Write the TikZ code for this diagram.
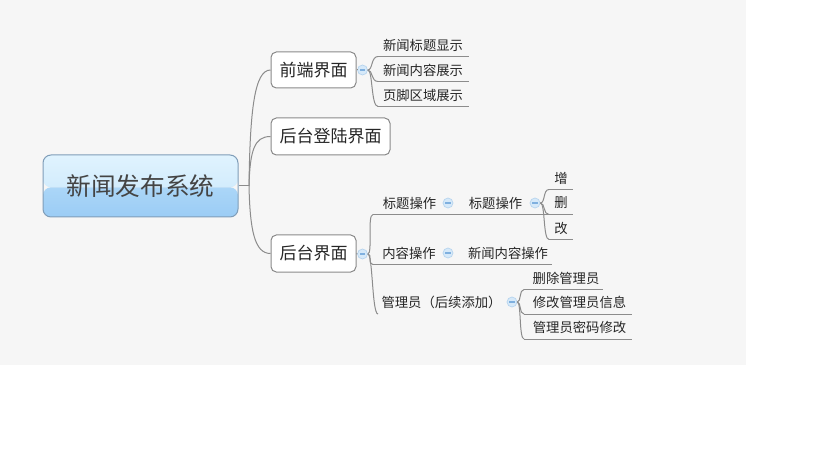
\documentclass[tikz,border=0pt]{standalone}
\usepackage{fontspec}
\newfontfamily\cjk{Noto Sans CJK SC}
\definecolor{bgc}{HTML}{F6F6F6}
\definecolor{txt}{HTML}{262626}
\definecolor{lineC}{HTML}{8C8C8C}
\definecolor{boxC}{HTML}{8A8A8A}
\definecolor{rootD}{HTML}{7F9DB8}
\definecolor{rootT}{HTML}{444444}
\definecolor{rtA}{HTML}{E0F3FE}
\definecolor{rtB}{HTML}{C6E6FB}
\definecolor{rbA}{HTML}{ABD6F7}
\definecolor{rbB}{HTML}{9BCCF5}
\definecolor{iconF}{HTML}{D6E9F9}
\definecolor{iconD}{HTML}{B5D3EE}
\definecolor{iconM}{HTML}{7FB0DF}
\begin{document}
\begin{tikzpicture}[x=0.75pt,y=-0.75pt,
  conn/.style={draw=lineC, line width=0.75pt},
  topic/.style={draw=boxC, fill=white, rounded corners=4pt, line width=0.75pt,
    font=\cjk\fontsize{12.75}{15}\selectfont, text=txt, inner sep=0pt},
  leaf/.style={font=\cjk\fontsize{10}{12}\selectfont, text=txt, inner sep=0pt},
  icon/.style={circle, fill=iconF, draw=iconD, line width=0.5pt, minimum size=7.5pt, inner sep=0pt,
    path picture={\draw[iconM, line width=0.8pt] ([xshift=-2pt]path picture bounding box.center) -- ([xshift=2pt]path picture bounding box.center);}},
  root/.style={rounded corners=6pt, draw=rootD, line width=0.75pt, minimum width=146.25pt,
    minimum height=46.5pt, inner sep=0pt, font=\cjk\fontsize{18.5}{20}\selectfont, text=rootT,
    path picture={
      \shade[top color=rtA, bottom color=rtB] (path picture bounding box.north west) rectangle ([yshift=-1pt]path picture bounding box.east);
      \shade[top color=rbA, bottom color=rbB] ([yshift=-1pt]path picture bounding box.west) rectangle (path picture bounding box.south east);}}
]
\useasboundingbox (0,0) rectangle (819,460);
\fill[white] (0,0) rectangle (819,460);
\fill[bgc] (0,0) rectangle (746,365);

% root
\node[root] (root) at (140.5,186) {新闻发布系统};
\coordinate (jr) at (249,186);

% main topics
\node[topic, minimum width=63.75pt, minimum height=27pt] (fe) at (313.5,70) {前端界面};
\node[topic, minimum width=89.25pt, minimum height=27.75pt] (login) at (330.5,136.5) {后台登陆界面};
\node[topic, minimum width=63.75pt, minimum height=27.75pt] (be) at (313.5,253.5) {后台界面};

\draw[conn] (root.east) -- (jr);
\draw[conn] (jr) .. controls +(1,-76) and +(-16,0) .. (fe.west);
\draw[conn] (jr) .. controls +(1,-36) and +(-16,0) .. (login.west);
\draw[conn] (jr) .. controls +(1,44) and +(-16,0) .. (be.west);

% front end
\node[icon] (ife) at (362.5,70) {};
\draw[conn] (fe.east) -- (ife.west);
\node[leaf] (n1) at (423,45) {新闻标题显示};
\node[leaf] (n2) at (423,70) {新闻内容展示};
\node[leaf] (n3) at (423,95) {页脚区域展示};
\coordinate (n1s) at (378,56.5); \coordinate (n1e) at (469,56.5);
\coordinate (n2s) at (378,81.5); \coordinate (n2e) at (469,81.5);
\coordinate (n3s) at (378,106.5); \coordinate (n3e) at (469,106.5);
\draw[conn] (n1s) -- (n1e);
\draw[conn] (n2s) -- (n2e);
\draw[conn] (n3s) -- (n3e);
\draw[conn] (ife.east) .. controls +(5,0) and +(-7,0) .. (n1s);
\draw[conn] (ife.east) .. controls +(5,0) and +(-7,0) .. (n2s);
\draw[conn] (ife.east) .. controls +(5,0) and +(-7,0) .. (n3s);

% back end
\node[icon] (ibe) at (362.5,254) {};
\draw[conn] (be.east) -- (ibe.west);
\node[leaf] (t1) at (409.5,203) {标题操作};
\node[leaf] (c1) at (409,253) {内容操作};
\node[leaf] (m1) at (441.5,302) {管理员（后续添加）};
\coordinate (t1s) at (373,214.5); \coordinate (t1e) at (573,214.5);
\coordinate (c1s) at (373,264.5); \coordinate (c1e) at (552,264.5);
\coordinate (m1s) at (378,314);
\draw[conn] (t1s) -- (t1e);
\draw[conn] (c1s) -- (c1e);
\draw[conn] (ibe.east) .. controls +(5,0) and +(-6,0) .. (t1s);
\draw[conn] (ibe.east) .. controls +(5,0) and +(-6,0) .. (c1s);
\draw[conn] (ibe.east) .. controls +(5,0) and +(-6,0) .. (m1s);

% title ops
\node[icon] (it1) at (448,203) {};
\node[leaf] (t2) at (495.5,203) {标题操作};
\node[icon] (it2) at (535,203) {};
\node[leaf] (z) at (561,178) {增};
\node[leaf] (s) at (561,203) {删};
\node[leaf] (g) at (561,228) {改};
\coordinate (zs) at (549,189.5); \coordinate (ze) at (573,189.5);
\coordinate (ss) at (549,214.5);
\coordinate (gs) at (549,239.5); \coordinate (ge) at (573,239.5);
\draw[conn] (zs) -- (ze);
\draw[conn] (gs) -- (ge);
\draw[conn] (it2.east) .. controls +(5,0) and +(-6,0) .. (zs);
\draw[conn] (it2.east) .. controls +(5,0) and +(-6,0) .. (ss);
\draw[conn] (it2.east) .. controls +(5,0) and +(-6,0) .. (gs);

% content ops
\node[icon] (ic1) at (448,253) {};
\node[leaf] (c2) at (508,253) {新闻内容操作};

% admin
\node[icon] (im1) at (512,302) {};
\node[leaf] (a1) at (566,278) {删除管理员};
\node[leaf] (a2) at (579.5,302) {修改管理员信息};
\node[leaf] (a3) at (579.5,327) {管理员密码修改};
\coordinate (a1s) at (524,289.5); \coordinate (a1e) at (603,289.5);
\coordinate (a2s) at (524,314); \coordinate (a2e) at (632,314);
\coordinate (a3s) at (524,339); \coordinate (a3e) at (632,339);
\draw[conn] (a1s) -- (a1e);
\draw[conn] (a2s) -- (a2e);
\draw[conn] (a3s) -- (a3e);
\draw[conn] (im1.east) .. controls +(4,0) and +(-5,0) .. (a1s);
\draw[conn] (im1.east) .. controls +(4,0) and +(-5,0) .. (a2s);
\draw[conn] (im1.east) .. controls +(4,0) and +(-5,0) .. (a3s);
\end{tikzpicture}
\end{document}
